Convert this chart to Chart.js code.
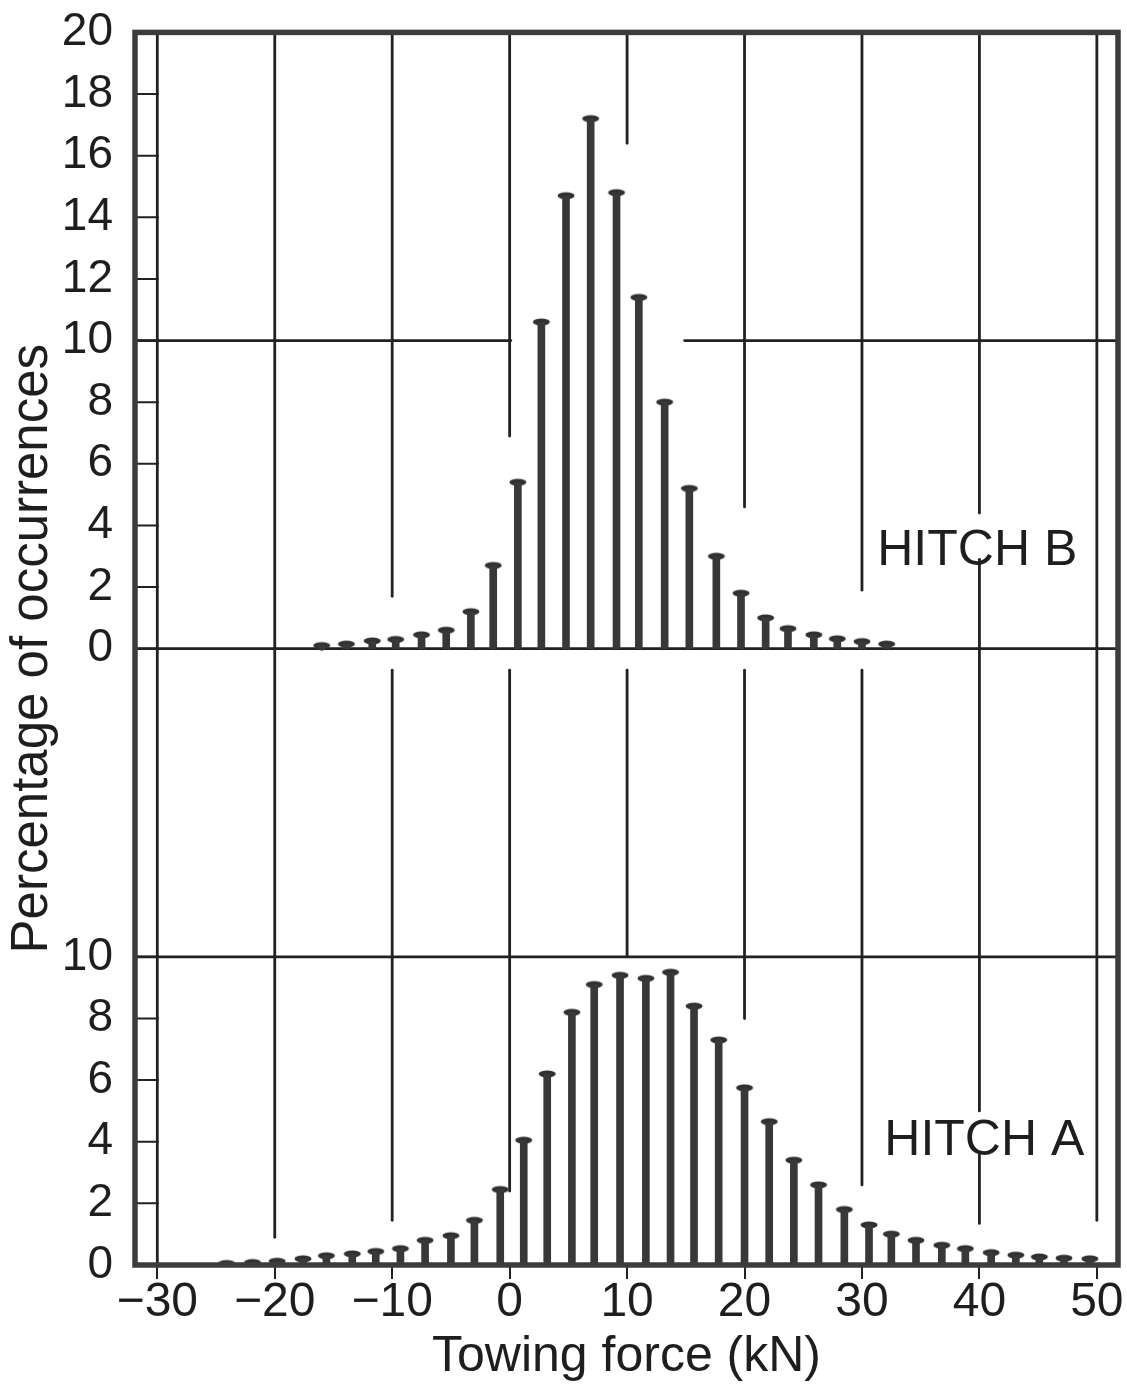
<!DOCTYPE html>
<html lang="en">
<head>
<meta charset="UTF-8" />
<title>Towing force distribution</title>
<style>
  body { margin: 0; background: #fff; }
  #wrap { width: 1127px; height: 1387px; }
</style>
<script src="https://cdn.jsdelivr.net/npm/chart.js@4"></script>
</head>
<body>
<div id="wrap"><canvas id="towChart" width="1127" height="1387"></canvas></div>
<script>
// where each bar stands (kN) and its height (%)
const hitchBForce = [-16.0, -13.9, -11.7, -9.7, -7.5, -5.4, -3.3, -1.4, 0.7, 2.7, 4.8, 6.9,
  9.1, 11.0, 13.2, 15.3, 17.6, 19.7, 21.8, 23.7, 25.9, 27.9, 30.0, 32.1];
const hitchBPct = [0.1, 0.15, 0.25, 0.3, 0.45, 0.6, 1.2, 2.7, 5.4, 10.6, 14.7, 17.2,
  14.8, 11.4, 8.0, 5.2, 3.0, 1.8, 1.0, 0.65, 0.45, 0.32, 0.23, 0.15];

const hitchAForce = [-24.1, -21.9, -19.8, -17.6, -15.6, -13.4, -11.4, -9.3, -7.2, -5.0, -3.0, -0.8,
  1.2, 3.2, 5.3, 7.2, 9.4, 11.6, 13.7, 15.7, 17.8, 20.0, 22.1, 24.2, 26.3, 28.5, 30.6, 32.5,
  34.6, 36.8, 38.8, 41.0, 43.1, 45.1, 47.2, 49.4];
const hitchAPct = [0.05, 0.08, 0.12, 0.2, 0.3, 0.36, 0.44, 0.53, 0.8, 0.95, 1.45, 2.45,
  4.05, 6.2, 8.2, 9.1, 9.4, 9.3, 9.5, 8.4, 7.3, 5.75, 4.65, 3.4, 2.6, 1.8, 1.3, 1.0,
  0.8, 0.64, 0.53, 0.4, 0.32, 0.26, 0.22, 0.2];

const forceTicks = [-30, -20, -10, 0, 10, 20, 30, 40, 50];
const pctTicksA = [0, 2, 4, 6, 8, 10];
const pctTicksB = [0, 2, 4, 6, 8, 10, 12, 14, 16, 18, 20];

// both panels share one y scale, hitch B sits 20 units higher
const panelOffset = 20;

// broken guide lines of the original figure: [force, from, to] in axis units
const guideLines = [
  [-30, 0, 40],
  [-20, 0.9, 40],
  [-10, 21.7, 40], [-10, 1.45, 19.3],
  [0, 26.9, 40], [0, 2.4, 19.3],
  [10, 36.4, 40], [10, 10, 19.3],
  [20, 24.6, 40], [20, 8.0, 19.3],
  [30, 21.9, 40], [30, 2.6, 19.3],
  [40, 24.4, 40], [40, 5.0, 22.9], [40, 1.35, 3.6],
  [50, 1.45, 40]
];
// horizontal rules: [value, fromForce, toForce] (null = frame edge)
const ruleLines = [
  [10, null, null],
  [20, null, null],
  [30, null, 0.1], [30, 14.9, null]
];

const ink = '#222';
const stem = '#383838';
const font = '"Liberation Sans", Arial, sans-serif';

// nail-head cap on top of each stem
const cap = document.createElement('canvas');
cap.width = 20; cap.height = 16;
(function () {
  const c = cap.getContext('2d');
  c.fillStyle = '#303030';
  c.beginPath();
  c.ellipse(10, 8, 8.5, 3.4, 0, 0, Math.PI * 2);
  c.fill();
  c.beginPath();
  c.moveTo(5, 9); c.lineTo(15, 9); c.lineTo(10, 13.5);
  c.fill();
})();

const yTickValues = pctTicksA.concat(pctTicksB.map(v => v + panelOffset));

const paperPlugin = {
  id: 'paper',
  beforeDatasetsDraw(chart) {
    const { ctx, chartArea: a, scales: { x, y } } = chart;
    ctx.save();
    ctx.strokeStyle = ink;
    ctx.lineWidth = 2.8;
    ctx.lineCap = 'round';
    guideLines.forEach(([f, v0, v1]) => {
      const px = x.getPixelForValue(f);
      ctx.beginPath();
      ctx.moveTo(px, y.getPixelForValue(v0));
      ctx.lineTo(px, y.getPixelForValue(v1));
      ctx.stroke();
    });
    ruleLines.forEach(([v, f0, f1]) => {
      const py = y.getPixelForValue(v);
      ctx.beginPath();
      ctx.moveTo(f0 === null ? a.left : x.getPixelForValue(f0), py);
      ctx.lineTo(f1 === null ? a.right : x.getPixelForValue(f1), py);
      ctx.stroke();
    });
    // short ticks inside the left edge
    ctx.lineWidth = 2;
    yTickValues.forEach(v => {
      const py = y.getPixelForValue(v);
      ctx.beginPath();
      ctx.moveTo(a.left, py);
      ctx.lineTo(a.left + 23, py);
      ctx.stroke();
    });
    ctx.restore();
  },
  afterDatasetsDraw(chart) {
    const { ctx, chartArea: a, scales: { x, y } } = chart;
    ctx.save();
    ctx.strokeStyle = '#3c3c3c';
    ctx.lineWidth = 5.5;
    ctx.strokeRect(a.left, a.top, a.right - a.left, a.bottom - a.top);
    ctx.fillStyle = '#1e1e1e';
    ctx.font = '50px ' + font;
    ctx.textBaseline = 'alphabetic';
    ctx.fillText('HITCH B', x.getPixelForValue(31.3), y.getPixelForValue(22.7));
    ctx.fillText('HITCH A', x.getPixelForValue(31.9), y.getPixelForValue(3.57));
    ctx.restore();
  }
};

new Chart(document.getElementById('towChart'), {
  type: 'bar',
  data: {
    datasets: [
      {
        label: 'Hitch A',
        data: hitchAForce.map((f, i) => ({ x: f, y: hitchAPct[i] })),
        backgroundColor: stem,
        barThickness: 7,
        grouped: false
      },
      {
        label: 'Hitch B',
        data: hitchBForce.map((f, i) => ({ x: f, y: [panelOffset, panelOffset + hitchBPct[i]] })),
        backgroundColor: stem,
        barThickness: 7,
        grouped: false
      },
      {
        type: 'scatter',
        data: hitchAForce.map((f, i) => ({ x: f, y: hitchAPct[i] })),
        pointStyle: cap
      },
      {
        type: 'scatter',
        data: hitchBForce.map((f, i) => ({ x: f, y: panelOffset + hitchBPct[i] })),
        pointStyle: cap
      }
    ]
  },
  options: {
    responsive: false,
    animation: false,
    devicePixelRatio: 1,
    layout: { padding: { top: 22, right: 9, left: 0, bottom: 0 } },
    plugins: { legend: { display: false }, tooltip: { enabled: false } },
    scales: {
      x: {
        type: 'linear',
        min: -31.9,
        max: 51.8,
        offset: false,
        afterBuildTicks: s => { s.ticks = forceTicks.map(v => ({ value: v })); },
        afterFit: s => { s.height = 122; },
        grid: { drawOnChartArea: false, tickLength: 14, lineWidth: 2, color: ink, offset: false },
        border: { display: false },
        ticks: {
          padding: 0,
          color: '#1e1e1e',
          font: { family: font, size: 48, lineHeight: 1.0 },
          maxRotation: 0,
          callback: v => (v < 0 ? '\u2212' + (-v) : String(v))
        },
        title: {
          display: true,
          text: 'Towing force (kN)',
          color: '#1e1e1e',
          font: { family: font, size: 50 },
          padding: { top: 0, bottom: 0 }
        }
      },
      y: {
        min: 0,
        max: 40,
        afterBuildTicks: s => { s.ticks = yTickValues.map(v => ({ value: v })); },
        afterFit: s => { s.width = 135; },
        grid: { display: false },
        border: { display: false },
        ticks: {
          padding: 14,
          color: '#1e1e1e',
          font: { family: font, size: 46, lineHeight: 0.8 },
          callback: v => String(v >= panelOffset ? v - panelOffset : v)
        },
        title: {
          display: true,
          text: 'Percentage of occurrences',
          color: '#1e1e1e',
          font: { family: font, size: 51 },
          padding: { top: 2, bottom: 0 }
        }
      }
    }
  },
  plugins: [paperPlugin]
});
</script>
</body>
</html>
